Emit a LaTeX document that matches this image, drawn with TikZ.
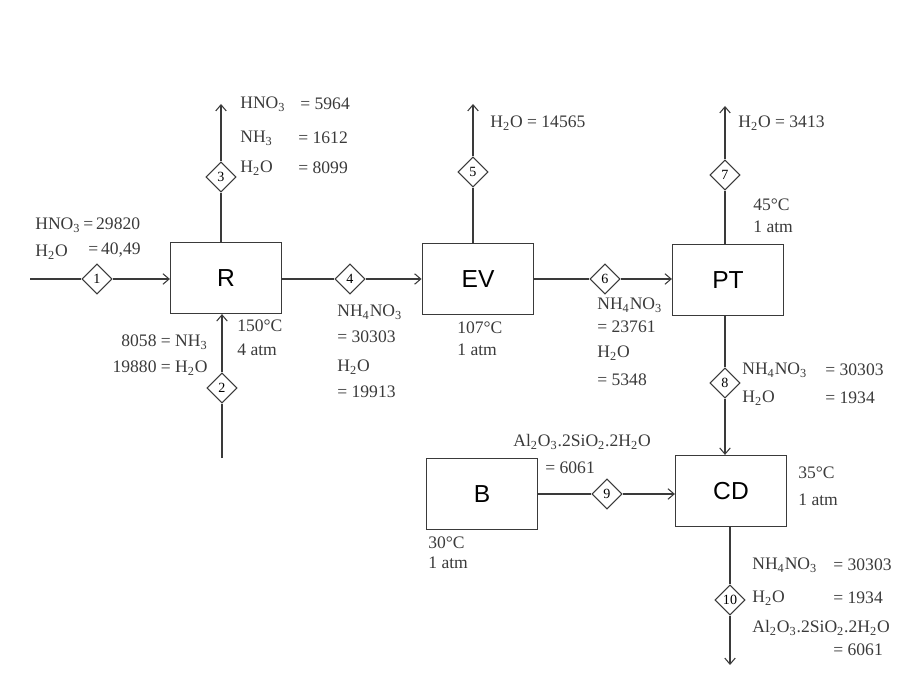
\documentclass[tikz,border=0pt]{standalone}
\usepackage{fontspec}
\setmainfont{Liberation Serif}
\setsansfont{Liberation Sans}
\usetikzlibrary{arrows.meta,positioning,shapes.geometric}
\definecolor{ink}{HTML}{3A3A3A}
\newcommand{\hno}{HNO\textsubscript{3}}
\newcommand{\amn}{NH\textsubscript{3}}
\newcommand{\wat}{H\textsubscript{2}O}
\newcommand{\nitr}{NH\textsubscript{4}NO\textsubscript{3}}
\newcommand{\kaol}{Al\textsubscript{2}O\textsubscript{3}.2SiO\textsubscript{2}.2H\textsubscript{2}O}

\begin{document}
\begin{tikzpicture}[x=0.02cm, y=-0.02cm,
		unit/.style={rectangle, draw=ink, line width=0.7pt,
				minimum width=2.22cm, minimum height=1.42cm,
				font=\fontsize{14}{16}\selectfont\sffamily, inner sep=0pt},
		strm/.style={diamond, draw=ink, fill=white, line width=0.6pt,
				minimum size=0.6cm, inner sep=0pt,
				font=\fontsize{8}{8}\selectfont},
		lbl/.style={anchor=west, font=\fontsize{10}{12}\selectfont,
				inner sep=0pt, text=ink},
		pipe/.style={draw=ink, line width=0.6pt},
		arr/.style={pipe, -{Straight Barb[length=3.5pt, width=6pt]}},
		]
		\useasboundingbox (0,0) rectangle (905,695);

		% ---- Unidades ----
		\node[unit] (R) at (226,278) {R};
		\node[unit, line width=1.1pt] (EV) at (478,279) {EV};
		\node[unit] (PT) at (728,280) {PT};
		\node[unit, line width=0.9pt] (B) at (482,494) {B};
		\node[unit] (CD) at (731,491) {CD};

		% ---- Arus ----
		\node[strm] (s1) at (97,279) {1};
		\node[strm] (s2) at (222,388) {2};
		\node[strm] (s3) at (221,177) {3};
		\node[strm] (s4) at (350,279) {4};
		\node[strm] (s5) at (473,172) {5};
		\node[strm] (s6) at (605,279) {6};
		\node[strm] (s7) at (725,175) {7};
		\node[strm] (s8) at (725,383) {8};
		\node[strm] (s9) at (607,494) {9};
		\node[strm] (s10) at (730,600) {10};

		\coordinate (in1) at (30,279);
		\coordinate (in2) at (222,458);
		\coordinate (out3) at (221,104);
		\coordinate (out5) at (473,104);
		\coordinate (out7) at (725,106);
		\coordinate (out10) at (730,665);

		% ---- Garis ----
		\draw[pipe] (in1) -- (s1.west);
		\draw[arr] (s1.east) -- (s1 -| R.west);
		\draw[pipe] (in2) -- (s2.south);
		\draw[arr] (s2.north) -- (s2 |- R.south);
		\draw[pipe] (s3 |- R.north) -- (s3.south);
		\draw[arr] (s3.north) -- (out3);
		\draw[pipe] (s4 -| R.east) -- (s4.west);
		\draw[arr] (s4.east) -- (s4 -| EV.west);
		\draw[pipe] (s5 |- EV.north) -- (s5.south);
		\draw[arr] (s5.north) -- (out5);
		\draw[pipe] (s6 -| EV.east) -- (s6.west);
		\draw[arr] (s6.east) -- (s6 -| PT.west);
		\draw[pipe] (s7 |- PT.north) -- (s7.south);
		\draw[arr] (s7.north) -- (out7);
		\draw[pipe] (s8 |- PT.south) -- (s8.north);
		\draw[arr] (s8.south) -- (s8 |- CD.north);
		\draw[pipe] (s9 -| B.east) -- (s9.west);
		\draw[arr] (s9.east) -- (s9 -| CD.west);
		\draw[pipe] (s10 |- CD.south) -- (s10.north);
		\draw[arr] (s10.south) -- (out10);

		% ---- Keterangan arus ----
		\node[lbl] (t1a) at (35,225) {\hno\,=\,29820};
		\node[lbl] (t1b) at (35,252) {\wat};
		\node[lbl] (t1c) at (88,250) {=\,40,49};

		\node[lbl, anchor=east] (t2a) at (208,342) {8058 = \amn};
		\node[lbl, anchor=east] (t2b) at (208,368) {19880 = \wat};

		\node[lbl] (t3a) at (240,104) {\hno};
		\node[lbl] (t3b) at (300,104) {= 5964};
		\node[lbl] (t3c) at (240,138) {\amn};
		\node[lbl] (t3d) at (298,138) {= 1612};
		\node[lbl] (t3e) at (240,168) {\wat};
		\node[lbl] (t3f) at (298,168) {= 8099};

		\node[lbl] (t4a) at (337,312) {\nitr};
		\node[lbl] (t4b) at (337,337) {= 30303};
		\node[lbl] (t4c) at (337,367) {\wat};
		\node[lbl] (t4d) at (337,392) {= 19913};

		\node[lbl] (t5) at (490,123) {\wat\ = 14565};

		\node[lbl] (t6a) at (597,305) {\nitr};
		\node[lbl] (t6b) at (597,327) {= 23761};
		\node[lbl] (t6c) at (597,353) {\wat};
		\node[lbl] (t6d) at (597,380) {= 5348};

		\node[lbl] (t7) at (738,123) {\wat\ = 3413};

		\node[lbl] (t8a) at (742,370) {\nitr};
		\node[lbl] (t8b) at (825,370) {= 30303};
		\node[lbl] (t8c) at (742,398) {\wat};
		\node[lbl] (t8d) at (825,398) {= 1934};

		\node[lbl] (t9a) at (513,442) {\kaol};
		\node[lbl] (t9b) at (545,468) {= 6061};

		\node[lbl] (t10a) at (752,565) {\nitr};
		\node[lbl] (t10b) at (833,565) {= 30303};
		\node[lbl] (t10c) at (752,598) {\wat};
		\node[lbl] (t10d) at (833,598) {= 1934};
		\node[lbl] (t10e) at (752,628) {\kaol};
		\node[lbl] (t10f) at (833,650) {= 6061};

		% ---- Kondisi operasi ----
		\node[lbl] (cR1) at (237,326) {150°C};
		\node[lbl] (cR2) at (237,350) {4 atm};
		\node[lbl] (cEV1) at (457,328) {107°C};
		\node[lbl] (cEV2) at (457,350) {1 atm};
		\node[lbl] (cPT1) at (753,205) {45°C};
		\node[lbl] (cPT2) at (753,227) {1 atm};
		\node[lbl] (cB1) at (428,543) {30°C};
		\node[lbl] (cB2) at (428,563) {1 atm};
		\node[lbl] (cCD1) at (798,473) {35°C};
		\node[lbl] (cCD2) at (798,500) {1 atm};

	\end{tikzpicture}
\end{document}
